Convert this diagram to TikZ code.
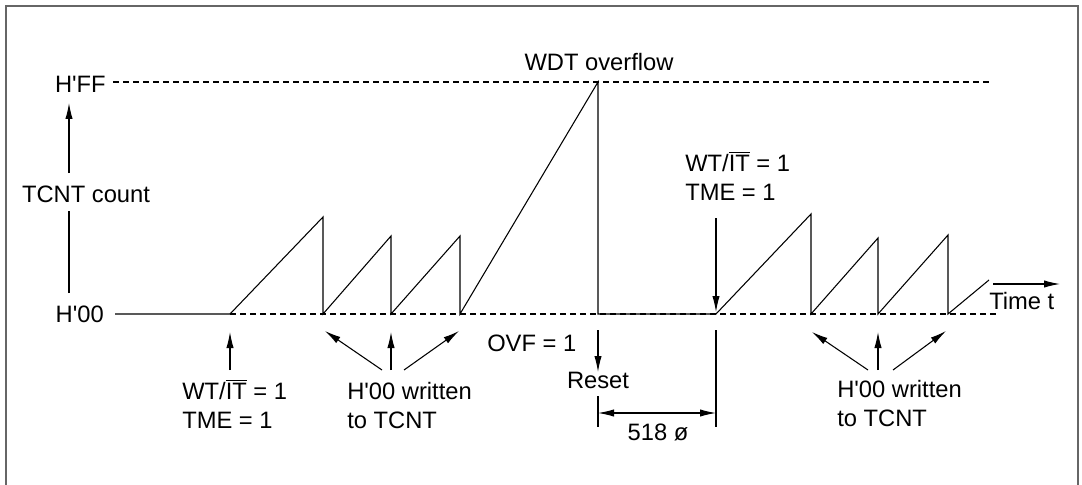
\documentclass[tikz,border=0pt]{standalone}
\usepackage{fontspec}
\setmainfont{Liberation Sans}
\usetikzlibrary{arrows.meta}
\tikzstyle{wave} = [draw, line width=0.8pt]
\tikzstyle{level} = [draw, line width=0.8pt, dash pattern=on 4.5pt off 3pt]
\tikzstyle{arr} = [draw, line width=0.8pt, -{Latex[length=12pt,width=5.5pt]}]
\tikzstyle{dim} = [draw, line width=0.8pt, {Latex[length=12pt,width=5.5pt]}-{Latex[length=12pt,width=5.5pt]}]
\tikzstyle{lbl} = [inner sep=0pt, align=left, font=\fontsize{17.8}{21.75}\selectfont]
\newcommand{\barred}[1]{\vbox{\hrule height 0.8pt \kern1.3pt \hbox{#1}}}
\newcommand{\wtit}{WT/\barred{IT} = 1}
\newcommand{\hq}{H\textquotesingle}

\begin{document}
\begin{tikzpicture}[x=0.75pt, y=-0.75pt]
    \useasboundingbox (0,0) rectangle (1082,485);
    \draw[line width=1.5pt, black!60] (6,485) -- (6,6) -- (1078,6) -- (1078,485);

    % levels
    \coordinate (ff0) at (113,82);
    \coordinate (ff1) at (990,82);
    \coordinate (z1) at (998,314);

    % waveform corners
    \coordinate (w0) at (115,314);
    \coordinate (s1) at (230,314);
    \coordinate (p1) at (323,217);  \coordinate (r1) at (323,314);
    \coordinate (p2) at (391,236);  \coordinate (r2) at (391,314);
    \coordinate (p3) at (460,236);  \coordinate (r3) at (460,314);
    \coordinate (ovf) at (598,82);  \coordinate (rst) at (598,314);
    \coordinate (s2) at (716,314);
    \coordinate (p4) at (811,214);  \coordinate (r4) at (811,314);
    \coordinate (p5) at (878,238);  \coordinate (r5) at (878,314);
    \coordinate (p6) at (948,235);  \coordinate (r6) at (948,314);
    \coordinate (w1) at (989,280);

    \draw[level] (ff0) -- (ff1);
    \draw[level] (s1) -- (z1);
    \draw[wave] (w0) -- (s1) -- (p1) -- (r1) -- (p2) -- (r2) -- (p3) -- (r3)
        -- (ovf) -- (rst) -- (s2) -- (p4) -- (r4) -- (p5) -- (r5) -- (p6) -- (r6) -- (w1);

    % axes
    \node[lbl, anchor=base east] (hff) at (106,93) {\hq FF};
    \node[lbl, anchor=base east] (h00) at (104,322) {\hq 00};
    \node[lbl, anchor=base] (count) at (86,202) {TCNT count};
    \coordinate (ya) at (69,293);
    \coordinate (yb) at (69,211);
    \coordinate (yc) at (69,173);
    \coordinate (yd) at (69,103);
    \draw[wave] (ya) -- (yb);
    \draw[arr] (yc) -- (yd);
    \coordinate (t0) at (993,284);
    \coordinate (t1) at (1060,284);
    \draw[arr] (t0) -- (t1);
    \node[lbl, anchor=base west] (time) at (989,309) {Time t};

    % labels
    \node[lbl, anchor=base] (wdt) at (599,70) {WDT overflow};
    \node[lbl, anchor=base west] (ovfl) at (487,351) {OVF = 1};
    \node[lbl, anchor=base] (reset) at (598,388) {Reset};
    \node[lbl, anchor=base west] (en1) at (182,428) {\wtit\\TME = 1};
    \node[lbl, anchor=base west] (en2) at (685,200) {\wtit\\TME = 1};
    \node[lbl, anchor=base west] (wr1) at (347,428) {\hq 00 written\\to TCNT};
    \node[lbl, anchor=base west] (wr2) at (837,426) {\hq 00 written\\to TCNT};
    \node[lbl, anchor=base] (clk) at (658,440) {518 ø};

    % pointers
    \coordinate (e1a) at (230,370);  \coordinate (e1b) at (230,332);
    \coordinate (e2a) at (716,218);  \coordinate (e2b) at (716,312);
    \coordinate (rsa) at (598,330);  \coordinate (rsb) at (598,372);
    \draw[arr] (e1a) -- (e1b);
    \draw[arr] (e2a) -- (e2b);
    \draw[arr] (rsa) -- (rsb);

    \coordinate (a1) at (382,370);  \coordinate (h1) at (325,331);
    \coordinate (a2) at (391,370);  \coordinate (h2) at (391,332);
    \coordinate (a3) at (404,370);  \coordinate (h3) at (459,331);
    \coordinate (a4) at (868,370);  \coordinate (h4) at (812,332);
    \coordinate (a5) at (878,370);  \coordinate (h5) at (878,332);
    \coordinate (a6) at (893,370);  \coordinate (h6) at (946,331);
    \draw (a1) edge[arr] (h1) (a2) edge[arr] (h2) (a3) edge[arr] (h3)
          (a4) edge[arr] (h4) (a5) edge[arr] (h5) (a6) edge[arr] (h6);

    % 518 clock interval
    \coordinate (d0) at (598,396);  \coordinate (d1) at (598,427);
    \coordinate (d2) at (716,330);  \coordinate (d3) at (716,427);
    \coordinate (m0) at (598,413);  \coordinate (m1) at (716,413);
    \draw[wave] (d0) -- (d1);
    \draw[wave] (d2) -- (d3);
    \draw[dim] (m0) -- (m1);
\end{tikzpicture}
\end{document}
